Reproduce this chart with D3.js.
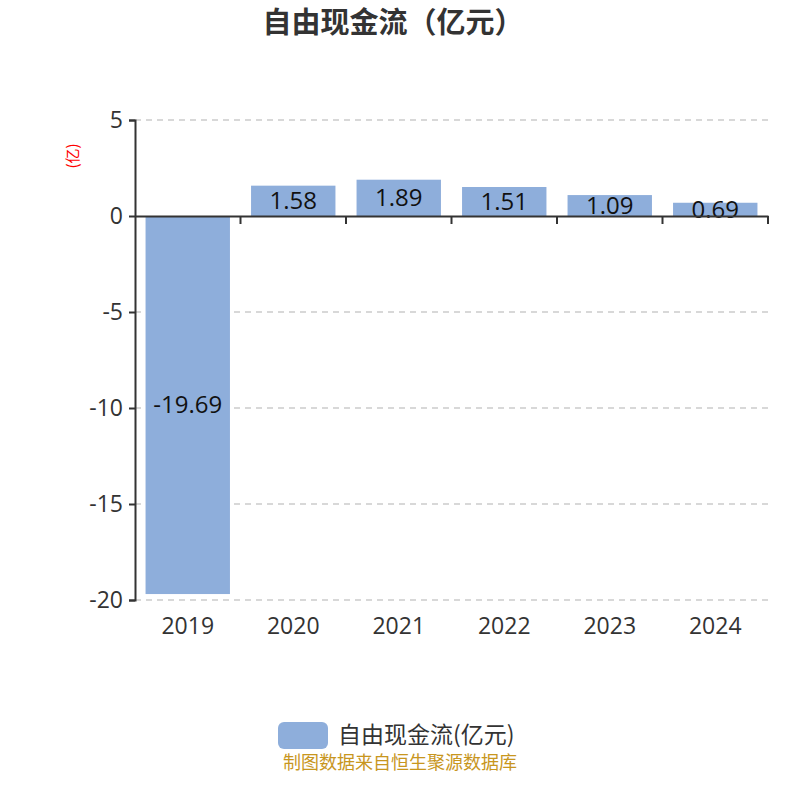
<html>
<head>
    <meta charset="utf-8">
    <title>自由现金流</title>
    <script src="https://d3js.org/d3.v7.min.js"></script>
    <style>
        body { margin: 0; background: #fff; }
    </style>
</head>
<body>
    <script>
        const years = ['2019', '2020', '2021', '2022', '2023', '2024']
        const cashFlow = [-19.69, 1.58, 1.89, 1.51, 1.09, 0.69]
        const yTicks = [5, 0, -5, -10, -15, -20]

        const width = 800
        const height = 800
        const plotLeft = 135
        const plotRight = 768
        const plotTop = 120
        const plotBottom = 600
        const latin = '"Open Sans", "Noto Sans CJK SC", sans-serif'
        const cjk = '"Noto Sans CJK SC", sans-serif'

        const svg = d3.select('body').append('svg')
            .attr('width', width)
            .attr('height', height)

        const x = d3.scaleBand()
            .domain(years)
            .range([plotLeft, plotRight])
            .paddingInner(0.2)
            .paddingOuter(0.1)

        const y = d3.scaleLinear()
            .domain([-20, 5])
            .range([plotBottom, plotTop])

        // grid lines
        svg.append('g')
            .selectAll('line')
            .data(yTicks.filter(d => d !== 0))
            .enter()
            .append('line')
            .attr('x1', plotLeft)
            .attr('x2', plotRight)
            .attr('y1', d => y(d))
            .attr('y2', d => y(d))
            .attr('stroke', '#ccc')
            .attr('stroke-width', 1.5)
            .attr('stroke-dasharray', '6,5')

        // bars
        svg.append('g')
            .selectAll('rect')
            .data(cashFlow)
            .enter()
            .append('rect')
            .attr('x', (d, i) => x(years[i]))
            .attr('width', x.bandwidth())
            .attr('y', d => y(Math.max(0, d)))
            .attr('height', d => Math.abs(y(d) - y(0)))
            .attr('fill', '#8eaedb')

        // value labels
        svg.append('g')
            .selectAll('text')
            .data(cashFlow)
            .enter()
            .append('text')
            .attr('x', (d, i) => x(years[i]) + x.bandwidth() / 2)
            .attr('y', d => (y(d) + y(0)) / 2)
            .attr('dy', '0.35em')
            .attr('text-anchor', 'middle')
            .attr('font-size', '24px')
            .attr('font-family', latin)
            .attr('fill', '#111')
            .text(d => d.toFixed(2))

        // y axis
        const yAxis = svg.append('g')
            .attr('transform', `translate(${plotLeft},0)`)
            .call(d3.axisLeft(y).tickValues(yTicks).tickSize(6).tickPadding(6).tickFormat(d => String(d)))
        yAxis.select('.domain').attr('stroke', '#333').attr('stroke-width', 2)
        yAxis.selectAll('.tick line').attr('stroke', '#333').attr('stroke-width', 2)
        yAxis.selectAll('.tick text')
            .attr('font-size', '23px')
            .attr('fill', '#333')
            .attr('font-family', latin)

        // x axis at zero
        const xAxis = svg.append('g')
            .attr('transform', `translate(0,${y(0)})`)
            .call(d3.axisBottom(x).tickSize(0).tickFormat(''))
        xAxis.select('.domain').attr('stroke', '#333').attr('stroke-width', 2)

        // ticks at band boundaries
        const boundaries = years.slice(1).map(d => x(d) - x.step() * x.paddingInner() / 2).concat([plotRight])
        svg.append('g')
            .selectAll('line')
            .data(boundaries)
            .enter()
            .append('line')
            .attr('x1', d => d)
            .attr('x2', d => d)
            .attr('y1', y(0))
            .attr('y2', y(0) + 8)
            .attr('stroke', '#333')
            .attr('stroke-width', 2)

        // year labels at the bottom
        svg.append('g')
            .selectAll('text')
            .data(years)
            .enter()
            .append('text')
            .attr('x', d => x(d) + x.bandwidth() / 2)
            .attr('y', 634)
            .attr('text-anchor', 'middle')
            .attr('font-size', '23px')
            .attr('font-family', latin)
            .attr('fill', '#333')
            .text(d => d)

        // title
        svg.append('text')
            .attr('x', 393)
            .attr('y', 33)
            .attr('text-anchor', 'middle')
            .attr('font-size', '29px')
            .attr('font-weight', 'bold')
            .attr('fill', '#333')
            .attr('font-family', cjk)
            .text('自由现金流（亿元）')

        // unit label
        svg.append('text')
            .attr('transform', 'translate(78,156) rotate(-90)')
            .attr('text-anchor', 'middle')
            .attr('font-size', '15px')
            .attr('fill', 'red')
            .attr('font-family', cjk)
            .text('(亿)')

        // legend
        svg.append('rect')
            .attr('x', 278)
            .attr('y', 722)
            .attr('width', 50)
            .attr('height', 27)
            .attr('rx', 6)
            .attr('fill', '#8eaedb')
        svg.append('text')
            .attr('x', 338)
            .attr('y', 743)
            .attr('font-size', '23px')
            .attr('fill', '#333')
            .attr('font-family', cjk)
            .text('自由现金流(亿元)')

        // source
        svg.append('text')
            .attr('x', 400)
            .attr('y', 769)
            .attr('text-anchor', 'middle')
            .attr('font-size', '18px')
            .attr('fill', '#c8961e')
            .attr('font-family', cjk)
            .text('制图数据来自恒生聚源数据库')
    </script>
</body>
</html>
